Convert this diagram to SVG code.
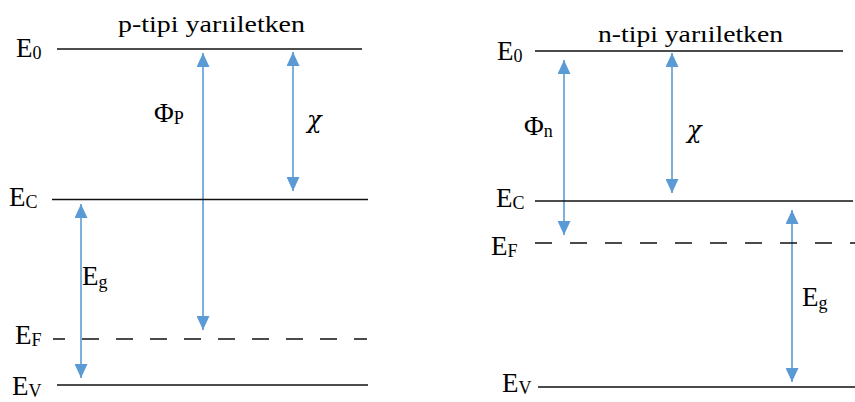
<svg xmlns="http://www.w3.org/2000/svg" width="855" height="402" viewBox="0 0 855 402">
<style>
text{font-family:"Liberation Serif","Times New Roman",serif;fill:#000}
.t{font-size:24px}
.l{font-size:27px}
.s{font-size:18px}
.chi{font-family:"DejaVu Serif","Liberation Serif",serif;font-style:italic;font-size:24px}
.lvl{stroke:#111;stroke-width:1.6;fill:none}
.dash{stroke:#111;stroke-width:1.6;fill:none;stroke-dasharray:17 17}
.arr{stroke:#5B9BD5;stroke-width:1.6;fill:none;marker-start:url(#ah);marker-end:url(#ah)}
</style>
<defs>
<marker id="ah" markerUnits="userSpaceOnUse" markerWidth="14" markerHeight="13" refX="14" refY="6.5" orient="auto-start-reverse" viewBox="0 0 14 13">
<path d="M0,0 L14,6.5 L0,13 z" fill="#5B9BD5"/>
</marker>
</defs>
<rect width="855" height="402" fill="#fff"/>
<g id="connectors">
<line class="arr" x1="203" y1="53" x2="203" y2="330"/>
<line class="arr" x1="293" y1="52" x2="293" y2="191"/>
<line class="arr" x1="81" y1="204" x2="81" y2="378"/>
<line class="arr" x1="564" y1="60" x2="564" y2="235"/>
<line class="arr" x1="672" y1="53" x2="672" y2="193"/>
<line class="arr" x1="792" y1="210" x2="792" y2="382"/>
</g>
<g id="p-panel">
<text class="t" x="118" y="32" textLength="187" lengthAdjust="spacingAndGlyphs">p-tipi yarıiletken</text>
<g id="p-E0"><line class="lvl" x1="57" y1="49" x2="362" y2="49"/><text class="l" x="16" y="57">E<tspan class="s" dy="2">0</tspan></text></g>
<g id="p-EC"><line class="lvl" x1="52" y1="199.5" x2="368" y2="199.5"/><text class="l" x="9" y="206">E<tspan class="s" dy="2">C</tspan></text></g>
<g id="p-EF"><line class="dash" x1="53" y1="339" x2="367" y2="339" stroke-dashoffset="5"/><text class="l" x="15" y="344">E<tspan class="s" dy="2">F</tspan></text></g>
<g id="p-EV"><line class="lvl" x1="57" y1="385" x2="368" y2="385"/><text class="l" x="12" y="395">E<tspan class="s" dy="2">V</tspan></text></g>
<text class="l" x="154" y="122">Φ<tspan class="s" dy="2">P</tspan></text>
<text class="chi" x="307" y="128">χ</text>
<text class="l" x="82" y="285">E<tspan class="s" dy="3">g</tspan></text>
</g>
<g id="n-panel">
<text class="t" x="598" y="42" textLength="185" lengthAdjust="spacingAndGlyphs">n-tipi yarıiletken</text>
<g id="n-E0"><line class="lvl" x1="535" y1="51" x2="843" y2="51"/><text class="l" x="497" y="60">E<tspan class="s" dy="2">0</tspan></text></g>
<g id="n-EC"><line class="lvl" x1="535" y1="201" x2="853" y2="201"/><text class="l" x="496" y="207">E<tspan class="s" dy="2">C</tspan></text></g>
<g id="n-EF"><line class="dash" x1="535" y1="243" x2="855" y2="243" style="stroke-dasharray:17 18"/><text class="l" x="491" y="255">E<tspan class="s" dy="2">F</tspan></text></g>
<g id="n-EV"><line class="lvl" x1="538" y1="387" x2="855" y2="387"/><text class="l" x="502" y="392">E<tspan class="s" dy="2">V</tspan></text></g>
<text class="l" x="524" y="135">Φ<tspan class="s" dy="2">n</tspan></text>
<text class="chi" x="687" y="138">χ</text>
<text class="l" x="802" y="306">E<tspan class="s" dy="3">g</tspan></text>
</g>
</svg>
